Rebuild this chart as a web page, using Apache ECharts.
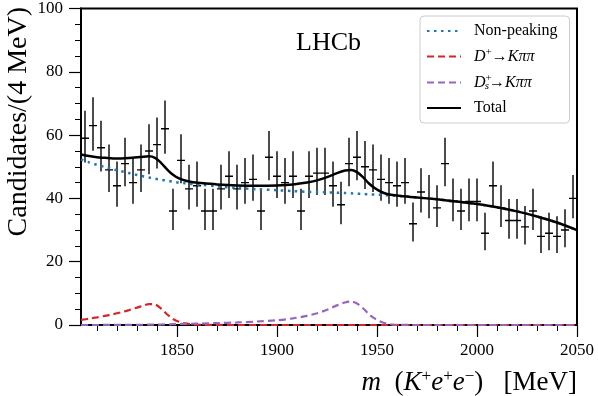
<!DOCTYPE html>
<html>
<head>
<meta charset="utf-8">
<script src="https://cdn.jsdelivr.net/npm/echarts@6/dist/echarts.min.js"></script>
<style>
  html, body { margin: 0; padding: 0; background: #fff; }
  #chart { width: 598px; height: 396px; }
</style>
</head>
<body>
<div id="chart"></div>
<script>
// candidates per 4 MeV bin, bin centres 1804, 1808, ..., 2048
const binStart = 1804;
const binWidth = 4;
const counts = [
  59, 63, 56, 49, 44, 51, 45, 49, 55, 57, 62, 36, 52, 43, 44, 36,
  36, 43, 47, 43, 45, 46, 36, 53, 47, 45, 47, 36, 47, 48, 48, 44,
  38, 51, 53, 50, 49, 46, 45, 44, 45, 32, 42, 40, 37, 51, 39, 36,
  39, 39, 29, 44, 37, 33, 33, 31, 36, 28, 29, 28, 30, 40
];

// fit components, sampled on this mass grid
const fitMass = [
  1802, 1806, 1810, 1814, 1818, 1822, 1826, 1830, 1833, 1836, 1839, 1842,
  1845, 1848, 1851, 1854, 1858, 1862, 1870, 1880, 1890, 1900, 1908, 1915,
  1920, 1925, 1930, 1934, 1937, 1940, 1943, 1946, 1949, 1952, 1955, 1958,
  1962, 1970, 1980, 1990, 2000, 2010, 2020, 2030, 2040, 2050
];
const nonPeaking = [
  52.3, 51.4, 50.6, 49.9, 49.2, 48.6, 48.0, 47.4, 47.0, 46.6, 46.2, 45.9,
  45.6, 45.3, 45.0, 44.8, 44.5, 44.3, 43.8, 43.3, 42.9, 42.6, 42.3, 42.1,
  42.0, 41.9, 41.8, 41.7, 41.6, 41.5, 41.4, 41.3, 41.2, 41.1, 41.0, 40.9,
  40.7, 40.3, 39.7, 39.0, 38.2, 37.2, 35.9, 34.3, 32.4, 30.0
];
const dPlus = [
  1.6, 2.0, 2.4, 2.9, 3.4, 4.0, 4.7, 5.5, 6.1, 6.6, 6.5, 5.2,
  3.4, 1.9, 1.0, 0.5, 0.2, 0.08, 0.02, 0, 0, 0, 0, 0,
  0, 0, 0, 0, 0, 0, 0, 0, 0, 0, 0, 0,
  0, 0, 0, 0, 0, 0, 0, 0, 0, 0
];
const dsPlus = [
  0, 0, 0, 0.02, 0.03, 0.04, 0.05, 0.07, 0.08, 0.1, 0.12, 0.15,
  0.2, 0.25, 0.3, 0.35, 0.4, 0.45, 0.6, 0.8, 1.1, 1.5, 2.1, 2.9,
  3.7, 4.8, 6.2, 7.1, 7.4, 6.8, 5.3, 3.4, 2.0, 1.0, 0.4, 0.15,
  0.04, 0, 0, 0, 0, 0, 0, 0, 0, 0
];

const xTicks = [1850, 1900, 1950, 2000, 2050];
const xMinorTicks = [1810, 1820, 1830, 1840, 1860, 1870, 1880, 1890, 1910, 1920,
  1930, 1940, 1960, 1970, 1980, 1990, 2010, 2020, 2030, 2040];

const serif = '"Liberation Serif", "DejaVu Serif", serif';

// poisson-style asymmetric errors
const points = counts.map((n, i) => [
  binStart + i * binWidth, n, n - Math.sqrt(n - 0.25), n + Math.sqrt(n + 0.75) + 1
]);
const pair = (ys) => fitMass.map((m, i) => [m, ys[i]]);
const total = fitMass.map((m, i) => [m, nonPeaking[i] + dPlus[i] + dsPlus[i]]);

const chart = echarts.init(document.getElementById('chart'));

const rich = {
  i: { fontFamily: serif, fontStyle: 'italic', fontSize: 16, color: '#000', lineHeight: 18 },
  n: { fontFamily: serif, fontSize: 16, color: '#000', lineHeight: 18 },
  sup: { fontFamily: serif, fontSize: 11, color: '#000', lineHeight: 18, padding: [0, 0, 8, 0] },
  sub: { fontFamily: serif, fontStyle: 'italic', fontSize: 11, color: '#000', lineHeight: 18, padding: [8, 0, 0, -7] }
};

chart.setOption({
  animation: false,
  grid: {
    left: 81, right: 21, top: 7, bottom: 71,
    show: true, borderColor: '#000', borderWidth: 2, backgroundColor: 'transparent'
  },
  legend: {
    orient: 'vertical',
    left: 420, top: 16,
    padding: [6, 12, 6, 6],
    itemWidth: 34, itemHeight: 14, itemGap: 7,
    backgroundColor: '#fff',
    borderColor: '#cccccc', borderWidth: 1, borderRadius: 4,
    itemStyle: { opacity: 0 },
    data: ['Non-peaking', 'Dp', 'Ds', 'Total'],
    formatter: function (name) {
      if (name === 'Dp') return '{i|D}{sup|+}{n|→}{i|Kππ}';
      if (name === 'Ds') return '{i|D}{sup|+}{sub|s}{n|→}{i|Kππ}';
      return '{n|' + name + '}';
    },
    textStyle: { fontFamily: serif, fontSize: 16, lineHeight: 18, color: '#000', padding: [0, 0, 0, 8], rich: rich }
  },
  xAxis: [{
    type: 'value', min: 1802, max: 2050,
    axisLine: { lineStyle: { color: '#000', width: 2 } },
    axisTick: { customValues: xTicks, length: 12, lineStyle: { color: '#000', width: 1.2 } },
    axisLabel: {
      customValues: xTicks, margin: 17, fontFamily: serif, fontSize: 17, color: '#000',
      formatter: (v) => String(v)
    },
    splitLine: { show: false }
  }, {
    type: 'value', min: 1802, max: 2050, position: 'bottom',
    axisLine: { show: false },
    axisTick: { customValues: xMinorTicks, length: 6, lineStyle: { color: '#000', width: 1 } },
    axisLabel: { show: false },
    splitLine: { show: false }
  }],
  yAxis: {
    type: 'value', min: 0, max: 100, interval: 20,
    axisLine: { show: true, lineStyle: { color: '#000', width: 2 } },
    axisTick: { show: true, length: 12, lineStyle: { color: '#000', width: 1.2 } },
    minorTick: { show: true, splitNumber: 4, length: 6, lineStyle: { color: '#000', width: 1 } },
    axisLabel: { margin: 18, fontFamily: serif, fontSize: 17, color: '#000' },
    splitLine: { show: false }
  },
  graphic: [
    {
      type: 'text', left: 296, top: 30,
      style: { text: 'LHCb', font: '26px ' + serif, fill: '#000' }
    },
    {
      type: 'text', x: 5, y: 7, rotation: Math.PI / 2,
      style: { text: 'Candidates/(4 MeV)', font: '28px ' + serif, fill: '#000', align: 'right', verticalAlign: 'top' }
    },
    {
      type: 'text', x: 577, y: 368,
      style: {
        text: '{i|m}{n|  (}{i|K}{s|+}{i|e}{s|+}{i|e}{s|−}{n|)}{n|   [MeV]}',
        align: 'right',
        rich: {
          i: { fontFamily: serif, fontStyle: 'italic', fontSize: 27, fill: '#000' },
          n: { fontFamily: serif, fontSize: 27, fill: '#000' },
          s: { fontFamily: serif, fontSize: 17, fill: '#000', padding: [0, 0, 13, 0] }
        }
      }
    }
  ],
  series: [
    {
      name: 'data', type: 'custom', clip: true,
      data: points,
      renderItem: function (params, api) {
        const m = api.value(0), n = api.value(1);
        const c = api.coord([m, n]);
        const l = api.coord([m - binWidth / 2, n]);
        const r = api.coord([m + binWidth / 2, n]);
        const lo = api.coord([m, api.value(2)]);
        const hi = api.coord([m, api.value(3)]);
        const st = { stroke: '#000', lineWidth: 1.4 };
        return {
          type: 'group',
          children: [
            { type: 'line', shape: { x1: l[0], y1: c[1], x2: r[0], y2: c[1] }, style: st },
            { type: 'line', shape: { x1: c[0], y1: hi[1], x2: c[0], y2: lo[1] }, style: st }
          ]
        };
      },
      z: 3
    },
    {
      name: 'Non-peaking', type: 'line', data: pair(nonPeaking), smooth: 0.3,
      symbol: 'none', color: '#1f77b4',
      lineStyle: { color: '#1f77b4', width: 2.5, type: [2.5, 4.5] }, z: 4
    },
    {
      name: 'Dp', type: 'line', data: pair(dPlus), smooth: 0.3,
      symbol: 'none', color: '#d62728',
      lineStyle: { color: '#d62728', width: 2.2, type: [7, 4] }, z: 4
    },
    {
      name: 'Ds', type: 'line', data: pair(dsPlus), smooth: 0.3,
      symbol: 'none', color: '#9467bd',
      lineStyle: { color: '#9467bd', width: 2.2, type: [7, 4] }, z: 4
    },
    {
      name: 'Total', type: 'line', data: total, smooth: 0.3,
      symbol: 'none', color: '#000',
      lineStyle: { color: '#000', width: 2.5 }, z: 5
    }
  ]
});
</script>
</body>
</html>
